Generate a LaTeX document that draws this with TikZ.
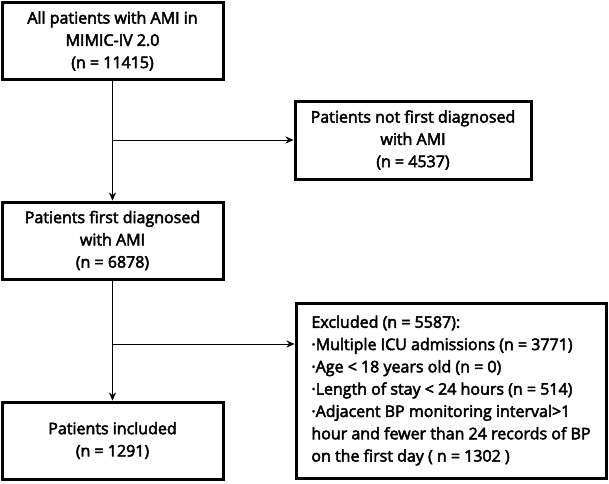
\documentclass[tikz,border=0pt]{standalone}
\usepackage{fontspec}
\setmainfont{Open Sans}[FakeBold=3]
\usetikzlibrary{arrows.meta,positioning}
\tikzset{>={Stealth[length=8pt,width=7pt]}, % filled arrow heads
line width=1.7pt, % connector lines
every node/.style={font=\fontsize{16}{22.3}\selectfont}, % text of the boxes
}

\begin{document}
\begin{tikzpicture}[x=1pt,y=-1pt,
	box/.style args = {#1/#2}{draw, line width=3pt, align=center, inner sep=0pt, minimum width=#1, minimum height=#2}]
\useasboundingbox (0,0) rectangle (609,483);
\node[box=221pt/77pt] (all) at (112.5,41) {All patients with AMI in\\MIMIC-IV 2.0\\(n = 11415)};
\node[box=236pt/78pt] (nf) at (413,140) {Patients not first diagnosed\\with AMI\\(n = 4537)};
\node[box=221pt/77pt] (first) at (112.5,240.5) {Patients first diagnosed\\with AMI\\(n = 6878)};
\node[box=221pt/77pt] (incl) at (112.5,440.5) {Patients included\\(n = 1291)};
\node[box=310pt/175pt, align=left] (excl) at (451,390.5) {Excluded (n = 5587):\\
·Multiple ICU admissions (n = 3771)\\
·Age < 18 years old (n = 0)\\
·Length of stay < 24 hours (n = 514)\\
·Adjacent BP monitoring interval>1\\
hour and fewer than 24 records of BP\\
on the first day ( n = 1302 )};
\coordinate (split) at (first.south |- 0,344);
\draw[->] (all) -- (first);
\draw[->] (all.south |- nf.west) -- (nf.west);
\draw[->] (first) -- (incl);
\draw[->] (split) -- (split -| excl.west);
\end{tikzpicture}
\end{document}
